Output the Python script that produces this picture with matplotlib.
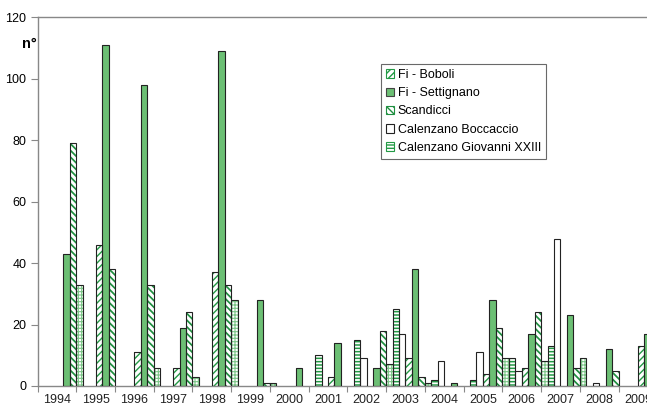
import matplotlib
matplotlib.use("Agg")
import matplotlib.pyplot as plt
from matplotlib.patches import Patch
import numpy as np

plt.rcParams['font.family'] = ['Liberation Sans', 'DejaVu Sans']

years = list(range(1994, 2010))
year_labels = [str(y) for y in years]

# series values (0 = no bar), one slot per series inside each year
calenzano_grid = [0, 33, 0, 6, 3, 28, 1, 0, 0, 7, 1, 0, 9, 8, 9, 0]
calenzano_giovanni = [0, 0, 0, 0, 0, 0, 0, 10, 15, 25, 2, 2, 9, 13, 0, 0]
calenzano_boccaccio = [0, 0, 0, 0, 0, 0, 0, 0, 9, 17, 8, 11, 5, 48, 1, 0]
fi_boboli = [0, 46, 11, 6, 37, 0, 0, 3, 0, 9, 0, 4, 6, 0, 0, 13]
fi_settignano = [43, 111, 98, 19, 109, 28, 6, 14, 6, 38, 1, 28, 17, 23, 12, 17]
scandicci = [79, 38, 33, 24, 33, 1, 0, 0, 18, 3, 0, 19, 24, 6, 5, 0]

series = [
    (None, calenzano_grid, 'white', '#7cc788', '+++++', 0.8),
    ('Calenzano Giovanni XXIII', calenzano_giovanni, 'white', '#239a45', '-----', 1.1),
    ('Calenzano Boccaccio', calenzano_boccaccio, 'white', None, '', 0.8),
    ('Fi - Boboli', fi_boboli, 'white', '#239a45', '/////', 1.0),
    ('Fi - Settignano', fi_settignano, '#6cbf74', None, '', 0.8),
    ('Scandicci', scandicci, 'white', '#1f8f40', '\\\\\\\\\\', 1.25),
]

W, H = 647, 405
fig = plt.figure(figsize=(W / 100, H / 100), dpi=100)
left_px, right_px, top_px, bot_px = 37.5, 657.25, 17.3, 386.0
ax = fig.add_axes([left_px / W, 1 - bot_px / H, (right_px - left_px) / W, (bot_px - top_px) / H])

nslot = len(series)
bw = 1.0 / nslot
x = np.arange(len(years))
handles = {}
for s, (name, vals, fc, hc, hatch, hlw) in enumerate(series):
    v = np.array(vals, dtype=float)
    m = v > 0
    xs = x[m] + s * bw
    with plt.rc_context({'hatch.linewidth': hlw}):
        if hatch:
            ax.bar(xs, v[m], width=bw, align='edge', facecolor=fc, edgecolor=hc,
                   hatch=hatch, linewidth=0, zorder=2)
        else:
            ax.bar(xs, v[m], width=bw, align='edge', facecolor=fc, linewidth=0, zorder=2)
        ax.bar(xs, v[m], width=bw, align='edge', facecolor='none', edgecolor='#222222',
               linewidth=0.8, zorder=3)
        if name:
            handles[name] = Patch(facecolor=fc, edgecolor=hc if hc else '#222222',
                                  hatch=hatch, linewidth=0.8)

ax.set_xlim(0, len(years))
ax.set_ylim(0, 120)
ax.set_yticks(range(0, 121, 20))
ax.set_xticks(np.arange(0, len(years) + 1), minor=False)
ax.set_xticklabels([])
ax.set_xticks(x + 0.5, minor=True)
ax.set_xticklabels(year_labels, minor=True)
ax.tick_params(axis='x', which='major', length=4, color='#888888', direction='out')
ax.tick_params(axis='x', which='minor', length=0, labelsize=9, pad=6, labelcolor='#222222')
ax.tick_params(axis='y', length=5, color='#888888', labelsize=9, pad=3)
for sp in ['left', 'bottom', 'top']:
    ax.spines[sp].set_color('#888888')
    ax.spines[sp].set_linewidth(1.0)
ax.spines['right'].set_visible(False)

fig.text(22 / W, 1 - 44 / H, 'n°', fontsize=10.5, fontweight='bold', va='center', ha='left')

order = ['Fi - Boboli', 'Fi - Settignano', 'Scandicci', 'Calenzano Boccaccio', 'Calenzano Giovanni XXIII']
leg_handles = [handles[n] for n in order]
leg_handles[3] = Patch(facecolor='white', edgecolor='#222222', linewidth=0.8)
leg_handles[1] = Patch(facecolor='#6cbf74', edgecolor='#444444', linewidth=0.8)
leg = fig.legend(leg_handles, order, loc='upper left',
                 bbox_to_anchor=(380.7 / W, 1 - 64 / H), fontsize=9,
                 frameon=True, fancybox=False, edgecolor='#444444',
                 handlelength=0.65, handleheight=0.65, handletextpad=0.3,
                 labelspacing=0.5, borderpad=0.4, borderaxespad=0)
leg.get_frame().set_linewidth(0.8)

fig.savefig('out.png', dpi=100)
